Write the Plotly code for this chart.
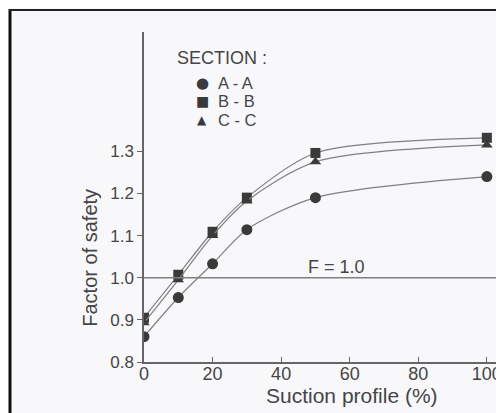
import plotly.graph_objects as go

suction = [0, 10, 20, 30, 50, 100]
fs_a = [0.860, 0.953, 1.033, 1.114, 1.190, 1.240]
fs_b = [0.905, 1.007, 1.109, 1.190, 1.296, 1.332]
fs_c = [0.893, 0.995, 1.100, 1.182, 1.275, 1.315]
series_names = ["A - A", "B - B", "C - C"]
symbols = ["circle", "square", "triangle-up"]
glyphs = ["●", "■", "▲"]
x_ticks = [0, 20, 40, 60, 80, 100]
y_ticks = [0.8, 0.9, 1.0, 1.1, 1.2, 1.3]
f_ref = 1.0

LINE = "#808080"
MARK = "#3a3a3a"
TXT = "#454545"
FONT = "Liberation Sans, Arial, sans-serif"

# plot area in window pixels: x 144..504, y 32..362.4
PX0, PW = 144.0, 360.0
PY1, PH = 362.4, 330.4


def px(x):
    return (x - PX0) / PW


def py(y):
    return (PY1 - y) / PH


fig = go.Figure()
for vals, name, sym in zip([fs_a, fs_b, fs_c], series_names, symbols):
    msize = 11 if sym == "circle" else 10
    fig.add_trace(go.Scatter(
        x=suction, y=vals, mode="lines+markers", name=name, showlegend=False,
        line=dict(color=LINE, width=1.2, shape="spline", smoothing=0.8),
        marker=dict(symbol=sym, size=msize, color=MARK),
    ))

fig.add_shape(type="line", xref="x", yref="y", x0=0, x1=105, y0=f_ref, y1=f_ref,
              line=dict(color=LINE, width=1.5))
fig.add_annotation(x=56, y=f_ref, xref="x", yref="y", text="F = 1.0",
                   showarrow=False, yanchor="bottom", yshift=-1,
                   font=dict(size=18, color=TXT, family=FONT))

# legend key
fig.add_annotation(x=px(175), y=py(58), xref="paper", yref="paper", text="SECTION :",
                   showarrow=False, xanchor="left", yanchor="middle",
                   font=dict(size=18, color=TXT, family=FONT))
row_y = [83, 101.5, 120]
glyph_size = [15, 14, 12]
for name, g, gs, ry in zip(series_names, glyphs, glyph_size, row_y):
    fig.add_annotation(x=px(202), y=py(ry), xref="paper", yref="paper", text=g,
                       showarrow=False, xanchor="center", yanchor="middle",
                       font=dict(size=gs, color=MARK, family="DejaVu Sans"))
    fig.add_annotation(x=px(216), y=py(ry), xref="paper", yref="paper", text=name,
                       showarrow=False, xanchor="left", yanchor="middle",
                       font=dict(size=16.5, color=TXT, family=FONT))

# axis titles
fig.add_annotation(x=px(90), y=py(258), xref="paper", yref="paper", text="Factor of safety",
                   textangle=-90, showarrow=False, xanchor="center", yanchor="middle",
                   font=dict(size=20, color=TXT, family=FONT))
fig.add_annotation(x=px(352), y=py(396), xref="paper", yref="paper", text="Suction profile (%)",
                   showarrow=False, xanchor="center", yanchor="middle",
                   font=dict(size=21, color=TXT, family=FONT))

# scanned page frame
fig.add_shape(type="line", xref="paper", yref="paper", x0=px(10), x1=px(10), y0=py(420), y1=py(9),
              line=dict(color="#111111", width=3))
fig.add_shape(type="line", xref="paper", yref="paper", x0=px(9), x1=px(520), y0=py(10), y1=py(10),
              line=dict(color="#222222", width=2))

fig.update_layout(
    width=496, height=405,
    margin=dict(l=136, r=0, t=24, b=405 - 24 - 330.4),
    paper_bgcolor="#f8f8fb", plot_bgcolor="#f8f8fb",
    font=dict(family=FONT, color=TXT, size=17),
    showlegend=False,
    xaxis=dict(range=[0, 105], tickvals=x_ticks, ticks="inside", ticklen=5, tickcolor="#666",
               ticklabelstandoff=-5,
               showline=True, linecolor="#666", linewidth=1.5, showgrid=False, zeroline=False,
               tickfont=dict(size=18, color=TXT, family=FONT)),
    yaxis=dict(range=[0.8, 1.583], tickvals=y_ticks, ticktext=["0.8", "0.9", "1.0", "1.1", "1.2", "1.3"],
               ticks="outside", ticklen=5, tickcolor="#666",
               showline=True, linecolor="#666", linewidth=1.5, showgrid=False, zeroline=False,
               tickfont=dict(size=17, color=TXT, family=FONT)),
)

fig.write_html("out.html")
